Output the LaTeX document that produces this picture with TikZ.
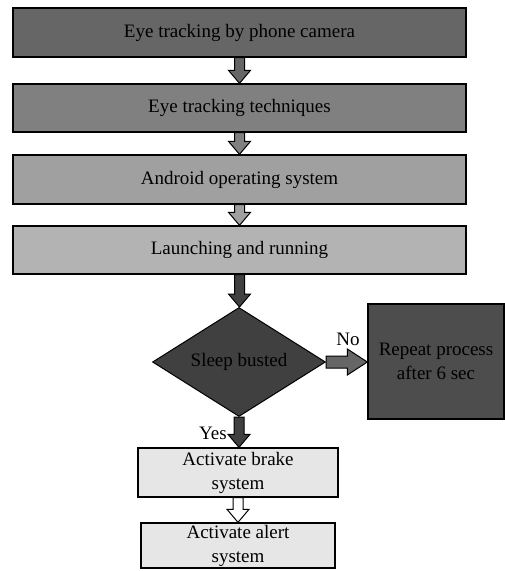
\documentclass[tikz,border=0pt]{standalone}
\usepackage{fontspec}
\setmainfont{Liberation Serif}
\usetikzlibrary{shapes.geometric,calc}
\definecolor{cA}{HTML}{666666}
\definecolor{cB}{HTML}{808080}
\definecolor{cC}{HTML}{A0A0A0}
\definecolor{cD}{HTML}{B3B3B3}
\definecolor{cDia}{HTML}{404040}
\definecolor{cRep}{HTML}{4D4D4D}
\definecolor{cLight}{HTML}{E6E6E6}
\newcommand\varrow[3]{%
  \draw[line width=1pt, fill=#3] let \p1=(#1), \p2=(#2) in
    (\x1-5pt,\y1) -- (\x1+5pt,\y1) -- (\x1+5pt,\y2+13pt) -- (\x1+11pt,\y2+13pt)
    -- (\x1,\y2) -- (\x1-11pt,\y2+13pt) -- (\x1-5pt,\y2+13pt) -- cycle;}
\newcommand\harrow[3]{%
  \draw[line width=1pt, fill=#3] let \p1=(#1), \p2=(#2) in
    (\x1,\y1+6pt) -- (\x2-20pt,\y1+6pt) -- (\x2-20pt,\y1+13pt) -- (\x2,\y1)
    -- (\x2-20pt,\y1-13pt) -- (\x2-20pt,\y1-6pt) -- (\x1,\y1-6pt) -- cycle;}
\begin{document}
\begin{tikzpicture}[x=1pt,y=1pt,
  box/.style={draw=black, line width=1.3pt, inner sep=0pt, align=center,
    font=\fontsize{19}{24}\selectfont},
  lbl/.style={inner sep=0pt, font=\fontsize{19}{24}\selectfont}]
\useasboundingbox (0,0) rectangle (505,-571);
\node[box, fill=cA, minimum width=453pt, minimum height=49pt] (b1) at (239.5,-32.5) {Eye tracking by phone camera};
\node[box, fill=cB, minimum width=453pt, minimum height=48pt] (b2) at (239.5,-108) {Eye tracking techniques};
\node[box, fill=cC, minimum width=453pt, minimum height=49pt] (b3) at (239.5,-179.5) {Android operating system};
\node[box, fill=cD, minimum width=453pt, minimum height=48pt] (b4) at (239.5,-250) {Launching and running};
\node[box, diamond, fill=cDia, line width=1pt, aspect=1.59, minimum width=173pt, minimum height=109pt] (dia) at (239,-362) {Sleep busted};
\node[box, fill=cRep, minimum width=136pt, minimum height=115pt] (rep) at (436,-361.5) {Repeat process\\after 6 sec};
\node[box, fill=cLight, minimum width=200pt, minimum height=49pt] (brake) at (238,-472.5) {Activate brake\\system};
\node[box, fill=cLight, minimum width=194pt, minimum height=45pt] (alert) at (238,-545.5) {Activate alert\\system};
\node[lbl] (no) at (348,-339) {No};
\node[lbl] (yes) at (213,-433) {Yes};
\varrow{b1.south}{b2.north}{cA}
\varrow{b2.south}{b3.north}{cB}
\varrow{b3.south}{b4.north}{cC}
\varrow{b4.south}{dia.north}{cDia}
\harrow{dia.east}{rep.west}{cA}
\varrow{dia.south}{brake.north}{cDia}
\varrow{brake.south}{alert.north}{white}
\end{tikzpicture}
\end{document}
